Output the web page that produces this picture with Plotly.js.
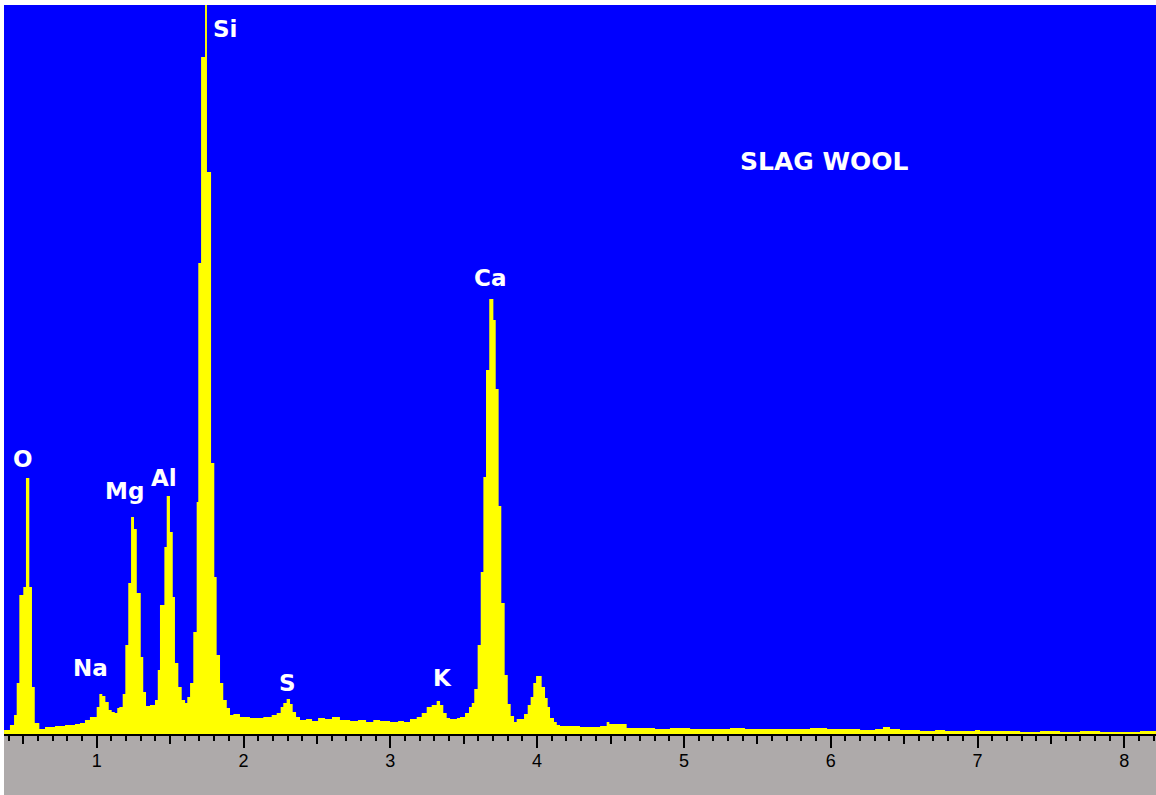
<!DOCTYPE html>
<html>
<head>
<meta charset="utf-8">
<script src="https://cdn.plot.ly/plotly-3.0.1.min.js"></script>
<style>html,body{margin:0;padding:0;background:#fff;}#chart{width:1156px;height:795px;}</style>
</head>
<body>
<div id="chart"></div>
<script>
// Energy (keV) at the start of each spectrum step
const energy = [0.369,0.409,0.437,0.455,0.473,0.500,0.518,0.541,0.559,0.578,0.609,0.648,0.682,0.716,0.750,0.784,0.818,0.852,0.886,0.920,0.954,1.000,1.018,1.038,1.059,1.082,1.102,1.123,1.140,1.154,1.177,1.195,1.215,1.234,1.254,1.273,1.300,1.317,1.336,1.363,1.397,1.416,1.431,1.461,1.477,1.499,1.518,1.533,1.556,1.579,1.602,1.617,1.636,1.658,1.681,1.692,1.711,1.738,1.751,1.779,1.801,1.817,1.840,1.862,1.886,1.908,1.931,1.976,2.044,2.135,2.192,2.226,2.253,2.271,2.294,2.317,2.335,2.358,2.385,2.426,2.467,2.508,2.555,2.603,2.657,2.726,2.780,2.835,2.884,2.930,2.998,3.053,3.093,3.134,3.180,3.214,3.248,3.282,3.316,3.339,3.361,3.384,3.407,3.454,3.475,3.509,3.536,3.555,3.572,3.595,3.616,3.634,3.652,3.674,3.702,3.718,3.738,3.756,3.779,3.800,3.820,3.843,3.861,3.911,3.936,3.956,3.974,3.993,4.031,4.054,4.072,4.088,4.115,4.134,4.156,4.224,4.292,4.360,4.429,4.474,4.492,4.551,4.610,4.701,4.803,4.905,5.042,5.178,5.314,5.416,5.587,5.723,5.859,5.975,6.097,6.200,6.302,6.356,6.404,6.472,6.608,6.711,6.779,6.881,6.983,7.017,7.153,7.290,7.426,7.562,7.698,7.835,7.971,8.107,8.216];
// Counts for each step
const counts = [4,9,19,51,139,147,256,147,47,11,5,7,7,8,8,9,9,10,11,14,17,27,40,38,32,24,22,21,26,27,40,89,151,217,205,141,77,42,28,29,34,64,129,187,238,202,137,71,47,34,31,37,51,102,232,471,677,800,562,271,157,79,51,34,26,19,20,17,16,17,19,21,27,31,35,30,22,17,14,15,13,16,15,17,14,13,14,12,14,13,12,13,12,15,17,21,27,29,33,29,21,16,15,16,17,21,27,31,45,89,162,257,364,435,414,345,228,131,59,30,18,12,15,20,29,37,51,58,47,36,27,16,12,9,8,8,7,7,8,12,10,10,6,6,5,6,5,5,6,5,5,5,6,5,5,4,5,7,5,4,3,4,3,3,4,3,3,2,3,2,3,2,2,3,3];

// Element peak labels
const peakLabels = ["O","Na","Mg","Al","Si","S","K","Ca"];
const peakLabelEnergy = [0.501,0.958,1.186,1.458,1.871,2.303,3.356,3.676];
const peakLabelCounts = [275,66,243,256,705,51,56,456];

const sampleName = "SLAG WOOL";
const sampleNameEnergy = 5.961;
const sampleNameCounts = 573;

const majorTicks = [1,2,3,4,5,6,7,8];
const halfTicks = [0.5,1.5,2.5,3.5,4.5,5.5,6.5,7.5];
const xRange = [0.3685, 8.2159];
const yRange = [0, 729];

const labelFont = {family: "DejaVu Sans", size: 23, color: "#ffffff", weight: "bold"};

const annotations = peakLabels.map((t, i) => ({
  x: peakLabelEnergy[i], y: peakLabelCounts[i], xref: "x", yref: "y",
  text: "<b>" + t + "</b>", showarrow: false, font: labelFont,
  xanchor: "center", yanchor: "middle"
}));
annotations.push({
  x: sampleNameEnergy, y: sampleNameCounts, xref: "x", yref: "y",
  text: "<b>" + sampleName + "</b>", showarrow: false,
  font: {family: "DejaVu Sans", size: 25, color: "#ffffff", weight: "bold"},
  xanchor: "center", yanchor: "middle"
});

const traces = [
  {
    x: energy, y: counts, type: "scatter", mode: "lines",
    line: {shape: "hv", width: 0, color: "#ffff00"},
    fill: "tozeroy", fillcolor: "#ffff00", hoverinfo: "skip", showlegend: false
  },
  {x: [], y: [], xaxis: "x2", yaxis: "y", type: "scatter", showlegend: false}
];

const layout = {
  width: 1156, height: 795,
  margin: {l: 4, r: 0, t: 5, b: 61, pad: 0},
  paper_bgcolor: "#ffffff",
  plot_bgcolor: "#0000ff",
  showlegend: false,
  xaxis: {
    range: xRange, showgrid: false, zeroline: false,
    showline: true, linecolor: "#000000", linewidth: 2,
    ticks: "outside", ticklen: 12, tickwidth: 2, tickcolor: "#000000",
    tickvals: majorTicks, ticktext: majorTicks.map(String),
    tickfont: {family: "Liberation Sans, Arial", size: 18, color: "#000000"},
    ticklabelstandoff: -3,
    minor: {dtick: 0.1, tick0: 0, ticks: "outside", ticklen: 5, tickwidth: 2, tickcolor: "#000000", showgrid: false}
  },
  xaxis2: {
    range: xRange, overlaying: "x", anchor: "y", side: "bottom",
    showgrid: false, zeroline: false, showline: false,
    ticks: "outside", ticklen: 9, tickwidth: 2, tickcolor: "#000000",
    tickvals: halfTicks, showticklabels: false
  },
  yaxis: {
    range: yRange, visible: false, showgrid: false, zeroline: false, fixedrange: true
  },
  shapes: [{
    type: "rect", xref: "paper", yref: "paper",
    x0: 0, x1: 1, y0: -61 / 729, y1: 0,
    fillcolor: "#aeaaaa", line: {width: 0}, layer: "below"
  }],
  annotations: annotations
};

Plotly.newPlot("chart", traces, layout, {displayModeBar: false, staticPlot: true});
</script>
</body>
</html>
